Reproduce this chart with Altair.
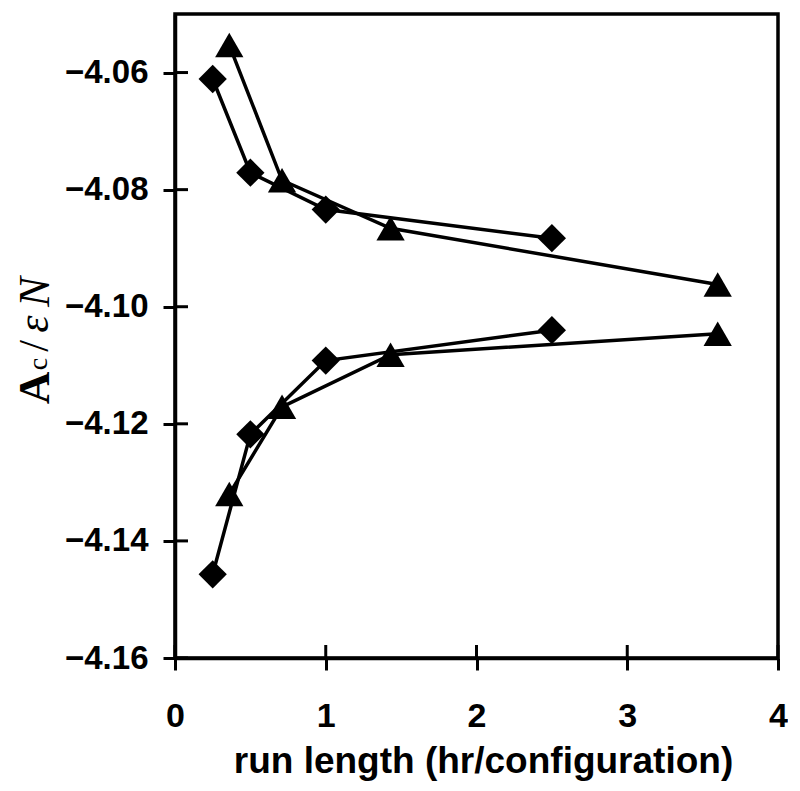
import altair as alt
import pandas as pd

# ---- data ----
diamond_x = [0.25, 0.5, 1.0, 2.5]
diamond_upper = [-4.0611, -4.0771, -4.0834, -4.0883]
diamond_lower = [-4.1457, -4.1218, -4.1092, -4.1040]
triangle_x = [0.36, 0.71, 1.43, 3.6]
triangle_upper = [-4.0553, -4.0784, -4.0866, -4.0962]
triangle_lower = [-4.1320, -4.1171, -4.1082, -4.1046]

x_ticks = [0, 1, 2, 3, 4]
y_ticks = [-4.16, -4.14, -4.12, -4.10, -4.08, -4.06]
x_title = "run length (hr/configuration)"
y_title_parts = ["A", "c", "/", "ε", "N"]

rows = []
for name, xs_, ys_, marker in [
    ("diamond upper", diamond_x, diamond_upper, "diamond"),
    ("diamond lower", diamond_x, diamond_lower, "diamond"),
    ("triangle upper", triangle_x, triangle_upper, "triangle"),
    ("triangle lower", triangle_x, triangle_lower, "triangle"),
]:
    for xv, yv in zip(xs_, ys_):
        rows.append({"series": name, "marker": marker, "x": xv, "y": yv})
df = pd.DataFrame(rows)

W, H = 603, 644
x_scale = alt.Scale(domain=[0, 4], nice=False, zero=False)
y_scale = alt.Scale(domain=[-4.16, -4.05], nice=False, zero=False)

x_axis = alt.Axis(
    values=x_ticks, format="d", title=x_title, labelFlush=False,
    labelFontSize=34, labelPadding=29,
    titleFontSize=37, titleY=114, titleX=308, titleBaseline="alphabetic",
)
y_axis = alt.Axis(
    values=y_ticks, format=".2f", title=None, labelFlush=False,
    labelFontSize=33, labelPadding=15,
)

base = alt.Chart(df)
lines = base.mark_line(color="black", strokeWidth=3.5).encode(
    x=alt.X("x:Q", scale=x_scale, axis=x_axis),
    y=alt.Y("y:Q", scale=y_scale, axis=y_axis),
    detail="series:N",
    order="x:Q",
)
points = base.mark_point(filled=True, color="black", opacity=1, size=800).encode(
    x=alt.X("x:Q", scale=x_scale, axis=x_axis),
    y=alt.Y("y:Q", scale=y_scale, axis=y_axis),
    shape=alt.Shape(
        "marker:N",
        scale=alt.Scale(domain=["diamond", "triangle"], range=["diamond", "triangle-up"]),
        legend=None,
    ),
)

# inner halves of the crossing tick marks
ytick_in = alt.Chart(pd.DataFrame({"y": y_ticks})).mark_rule(color="black", strokeWidth=3).encode(
    y=alt.Y("y:Q", scale=y_scale, axis=y_axis),
    x=alt.value(0),
    x2=alt.value(13),
)
xtick_in = alt.Chart(pd.DataFrame({"x": x_ticks})).mark_rule(color="black", strokeWidth=3).encode(
    x=alt.X("x:Q", scale=x_scale, axis=x_axis),
    y=alt.value(H),
    y2=alt.value(H - 13),
)

# y-axis title built from pieces (subscript c, Greek epsilon)
title_style = {
    "A": dict(fontSize=45, fontWeight="bold", fontStyle="normal", x=-126.5, y=374),
    "c": dict(fontSize=28, fontWeight="normal", fontStyle="normal", x=-128, y=350),
    "/": dict(fontSize=42, fontWeight="normal", fontStyle="normal", x=-127, y=332),
    "ε": dict(fontSize=44, fontWeight="normal", fontStyle="italic", x=-127, y=310),
    "N": dict(fontSize=45, fontWeight="normal", fontStyle="italic", x=-126.5, y=278),
}
title_layers = []
for part in y_title_parts:
    st = title_style[part]
    title_layers.append(
        alt.Chart(pd.DataFrame({"t": [part]})).mark_text(
            angle=270, font="Liberation Serif", fontSize=st["fontSize"],
            fontWeight=st["fontWeight"], fontStyle=st["fontStyle"],
            align="center", baseline="alphabetic", color="black",
        ).encode(text="t:N", x=alt.value(st["x"]), y=alt.value(st["y"]))
    )

chart = alt.layer(lines, points, ytick_in, xtick_in, *title_layers).properties(
    width=W, height=H,
    autosize=alt.AutoSizeParams(type="none"),
    padding={"left": 167, "top": 6, "right": 10, "bottom": 126},
).configure_view(
    stroke="black", strokeWidth=3.5,
).configure_axis(
    grid=False,
    domainColor="black", domainWidth=3.5,
    tickColor="black", tickWidth=3, tickSize=12,
    labelFont="Liberation Sans", labelFontWeight="bold", labelColor="black",
    titleFont="Liberation Sans", titleFontWeight="bold", titleColor="black",
    labelOverlap=False,
)

chart.save("out.html", embed_options={"renderer": "svg", "actions": False})
